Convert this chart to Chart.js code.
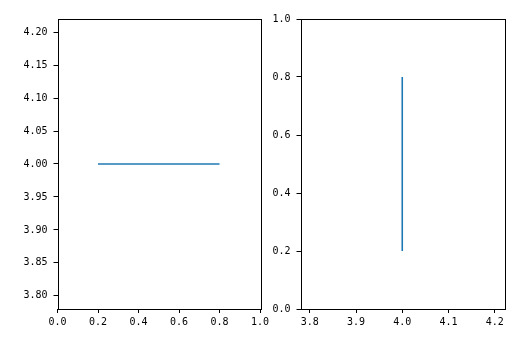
<!DOCTYPE html>
<html><head><meta charset="utf-8">
<script src="https://cdn.jsdelivr.net/npm/chart.js@4"></script>
<style>
html,body{margin:0;padding:0;background:#fff;}
#wrap{position:relative;width:524px;height:338px;}
canvas{position:absolute;top:0;}
</style></head>
<body><div id="wrap">
<canvas id="c1" style="left:0" width="290" height="338"></canvas>
<canvas id="c2" style="left:262px" width="262" height="338"></canvas>
</div>
<script>
// Left panel: horizontal line y=4 spanning x 0.2..0.8
const leftLineX = [0.2, 0.8];
const leftLineY = [4.0, 4.0];
const leftXTicks = [0.0, 0.2, 0.4, 0.6, 0.8, 1.0];
const leftYTicks = [3.80, 3.85, 3.90, 3.95, 4.00, 4.05, 4.10, 4.15, 4.20];
const leftXRange = [0, 1];
const leftYRange = [3.78, 4.22];
// Right panel: vertical line x=4 spanning y 0.2..0.8
const rightLineX = [4.0, 4.0];
const rightLineY = [0.2, 0.8];
const rightXTicks = [3.8, 3.9, 4.0, 4.1, 4.2];
const rightYTicks = [0.0, 0.2, 0.4, 0.6, 0.8, 1.0];
const rightXRange = [3.78, 4.22];
const rightYRange = [0, 1];

const FONT = {family: '"DejaVu Sans Mono", monospace', size: 10};

const frame = {
  id: 'frame',
  afterDatasetsDraw(chart) {
    const a = chart.chartArea, ctx = chart.ctx;
    ctx.save();
    ctx.strokeStyle = '#000';
    ctx.lineWidth = 1;
    ctx.strokeRect(Math.round(a.left) + 0.5, Math.round(a.top) + 0.5,
      Math.round(a.right - a.left), Math.round(a.bottom - a.top));
    ctx.restore();
  }
};

function axis(range, ticks, dec, pos, size) {
  return {
    type: 'linear', position: pos, min: range[0], max: range[1],
    afterBuildTicks: s => { s.ticks = ticks.map(v => ({value: v})); },
    afterFit: s => {
      if (pos === 'left') { s.width = size; s.paddingTop = 0; s.paddingBottom = 0; }
      else { s.height = size; s.paddingLeft = 0; s.paddingRight = 0; }
    },
    grid: {drawOnChartArea: false, drawTicks: true, tickLength: 4, color: '#000', tickWidth: 1},
    border: {display: false},
    ticks: {color: '#000', font: FONT, padding: pos === 'left' ? 6 : 3, autoSkip: false, maxRotation: 0,
      callback: v => Number(v).toFixed(dec)}
  };
}

function make(id, xs, ys, xr, yr, xt, yt, xd, yd, yw, pad) {
  new Chart(document.getElementById(id), {
    type: 'line',
    data: {datasets: [{
      data: xs.map((x, i) => ({x: x, y: ys[i]})),
      borderColor: '#1f77b4', borderWidth: 1.6, pointRadius: 0, fill: false, tension: 0
    }]},
    options: {
      responsive: false, animation: false,
      layout: {padding: pad},
      plugins: {legend: {display: false}, tooltip: {enabled: false}},
      scales: {
        x: axis(xr, xt, xd, 'bottom', 29),
        y: axis(yr, yt, yd, 'left', yw)
      }
    },
    plugins: [frame]
  });
}

make('c1', leftLineX, leftLineY, leftXRange, leftYRange, leftXTicks, leftYTicks, 1, 2, 57.5,
  {top: 19, right: 30, left: 0, bottom: 0});
make('c2', rightLineX, rightLineY, rightXRange, rightYRange, rightXTicks, rightYTicks, 1, 1, 38.5,
  {top: 19, right: 20, left: 0, bottom: 0});
</script></body></html>
